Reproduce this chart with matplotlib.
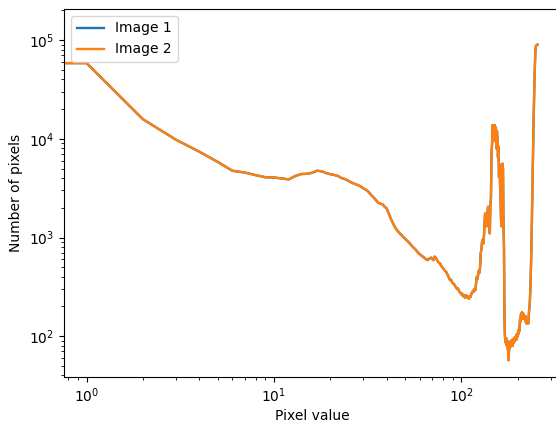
"""Histogram of two images on log-log axes."""

import matplotlib

matplotlib.use("Agg")
import matplotlib.pyplot as plt


PIXEL_VALUES = list(range(256))

# counts; both images give the same histogram
IMAGE_COUNTS = [
    140000, 58500, 15800, 9800, 7400, 5850, 4750, 4550, 4280, 4080,
    4060, 3970, 3880, 4200, 4400, 4420, 4530, 4750, 4680, 4500,
    4380, 4300, 4200, 4000, 3900, 3750, 3600, 3500, 3400, 3300,
    3150, 3050, 2900, 2700, 2550, 2400, 2250, 2200, 2170, 2050,
    1970, 1750, 1560, 1420, 1300, 1210, 1150, 1100, 1060, 1010,
    977, 940, 910, 875, 840, 806, 780, 755, 725, 700,
    679, 660, 645, 630, 615, 600, 590, 605, 614, 625,
    610, 590, 640, 625, 600, 570, 555, 546, 520, 500,
    490, 470, 460, 449, 430, 410, 390, 370, 375, 355,
    345, 342, 330, 320, 310, 300, 305, 290, 280, 275,
    265, 270, 255, 261, 250, 245, 260, 255, 245, 250,
    240, 255, 250, 265, 275, 285, 280, 300, 290, 293,
    350, 400, 380, 420, 460, 440, 500, 700, 750, 900,
    950, 870, 1000, 1300, 1750, 1500, 1400, 1300, 1800, 2050,
    1600, 1900, 1100, 2200, 2500, 7100, 9000, 13800, 12000, 13500,
    9500, 13800, 12500, 13000, 8000, 12000, 10000, 6500, 8300, 4100,
    5500, 3500, 2500, 1500, 1300, 3000, 5600, 5000, 1300, 800,
    150, 100, 90, 85, 95, 80, 90, 75, 70, 57,
    80, 75, 85, 78, 90, 80, 85, 92, 80, 88,
    85, 95, 88, 98, 90, 95, 100, 92, 105, 98,
    100, 110, 105, 118, 112, 130, 150, 140, 165, 170,
    160, 175, 150, 165, 170, 155, 160, 150, 155, 145,
    160, 140, 135, 150, 140, 145, 135, 140, 135, 160,
    180, 200, 215, 260, 320, 420, 600, 900, 1400, 2300,
    3800, 6000, 9500, 14000, 21000, 30000, 42000, 55000, 68000, 80000,
    86000, 88000, 89000, 89500, 90000, 90000,
]

SERIES = [("Image 1", IMAGE_COUNTS), ("Image 2", IMAGE_COUNTS)]


def main() -> None:
    fig = plt.figure(figsize=(5.56, 4.23), dpi=100)
    # the reference is a cropped screenshot: right spine sits just past the edge
    ax = fig.add_axes([64 / 556, 46 / 423, 496 / 556, 368 / 423])

    for label, counts in SERIES:
        ax.plot(PIXEL_VALUES, counts, label=label, linewidth=1.7)

    ax.set_xscale("log")
    ax.set_yscale("log")
    ax.set_xlabel("Pixel value", labelpad=3)
    ax.set_ylabel("Number of pixels")
    ax.legend(loc="upper left")

    fig.savefig("out.png", dpi=100)
    plt.close(fig)


if __name__ == "__main__":
    main()
